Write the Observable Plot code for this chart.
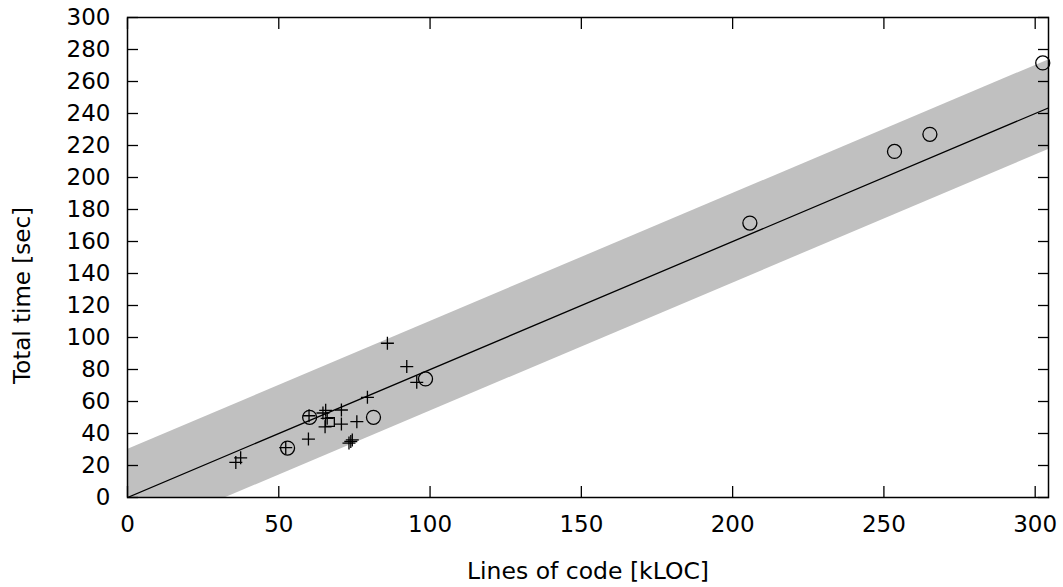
<!DOCTYPE html>
<html>
<head>
<meta charset="utf-8">
<script src="https://cdn.jsdelivr.net/npm/d3@7"></script>
<script src="https://cdn.jsdelivr.net/npm/@observablehq/plot@0.6"></script>
<style>
  body { margin: 0; background: #fff; }
</style>
</head>
<body>
<div id="chart"></div>
<script>
// ---- data ----
const plusX = [35.8, 37.4, 52.3, 59.8, 60.0, 64.6, 65.5, 65.3, 66.0, 70.7, 70.7, 75.8, 73.2, 73.8, 74.3, 79.3, 85.9, 92.3, 95.6];
const plusY = [21.9, 24.8, 31.2, 36.5, 51.1, 52.8, 54.5, 44.2, 49.5, 54.7, 45.9, 47.4, 34.0, 35.0, 36.0, 62.6, 96.4, 81.8, 72.0];

const circleX = [52.9, 60.2, 81.3, 98.5, 205.7, 253.5, 265.2, 302.5];
const circleY = [30.9, 50.1, 50.1, 74.1, 171.5, 216.3, 227.0, 271.6];

const squareX = [66.9];
const squareY = [47.2];

// fitted line and its band, at the two ends of the x range
const fitX = [0, 304.4];
const fitY = [0, 243.5];
const bandLow = [-26, 217.5];
const bandHigh = [30, 273.5];

const xTicks = [0, 50, 100, 150, 200, 250, 300];
const yTicks = [0, 20, 40, 60, 80, 100, 120, 140, 160, 180, 200, 220, 240, 260, 280, 300];
const xDomain = [0, 304.4];
const yDomain = [0, 300];

const xLabel = "Lines of code [kLOC]";
const yLabel = "Total time [sec]";

// ---- build tables ----
const pluses = plusX.map((x, i) => ({x, y: plusY[i]}));
const circles = circleX.map((x, i) => ({x, y: circleY[i]}));
const squares = squareX.map((x, i) => ({x, y: squareY[i]}));
const fit = fitX.map((x, i) => ({x, y: fitY[i], lo: bandLow[i], hi: bandHigh[i]}));

const plusSymbol = {
  draw(context, size) {
    const r = Math.sqrt(size / Math.PI);
    context.moveTo(-r, 0); context.lineTo(r, 0);
    context.moveTo(0, -r); context.lineTo(0, r);
  }
};

const chart = Plot.plot({
  width: 1063,
  height: 587,
  marginLeft: 127,
  marginRight: 15,
  marginTop: 17,
  marginBottom: 90,
  style: {fontFamily: "DejaVu Sans", fontSize: "23px", color: "black", background: "white"},
  x: {domain: xDomain, label: null},
  y: {domain: yDomain, label: null},
  marks: [
    Plot.areaY(fit, {x: "x", y1: "lo", y2: "hi", fill: "#c0c0c0", clip: true}),
    Plot.line(fit, {x: "x", y: "y", stroke: "black", strokeWidth: 1.3, clip: true}),
    Plot.dot(pluses, {x: "x", y: "y", symbol: plusSymbol, r: 6.5, stroke: "black", strokeWidth: 1.3, fill: "none"}),
    Plot.dot(circles, {x: "x", y: "y", symbol: "circle", r: 7, stroke: "black", strokeWidth: 1.3, fill: "none"}),
    Plot.dot(squares, {x: "x", y: "y", symbol: "square", r: 5, stroke: "black", strokeWidth: 1.3, fill: "none"}),
    Plot.axisX({anchor: "bottom", ticks: xTicks, tickSize: -11, tickPadding: 29, label: null, stroke: "black", strokeWidth: 1.3}),
    Plot.axisX({anchor: "top", ticks: xTicks, tickSize: -11, tickFormat: () => "", label: null, stroke: "black", strokeWidth: 1.3}),
    Plot.axisY({anchor: "left", ticks: yTicks, tickSize: -11, tickPadding: 28, label: null, stroke: "black", strokeWidth: 1.3}),
    Plot.axisY({anchor: "right", ticks: yTicks, tickSize: -11, tickFormat: () => "", label: null, stroke: "black", strokeWidth: 1.3}),
    Plot.frame({stroke: "black", strokeWidth: 1.5}),
    Plot.text([xLabel], {frameAnchor: "bottom", dy: 81, text: d => d, fill: "black", fontSize: 23.5}),
    Plot.text([yLabel], {frameAnchor: "left", dx: -105, dy: 38, rotate: -90, textAnchor: "middle", text: d => d, fill: "black"})
  ]
});
document.getElementById("chart").appendChild(chart);
</script>
</body>
</html>
